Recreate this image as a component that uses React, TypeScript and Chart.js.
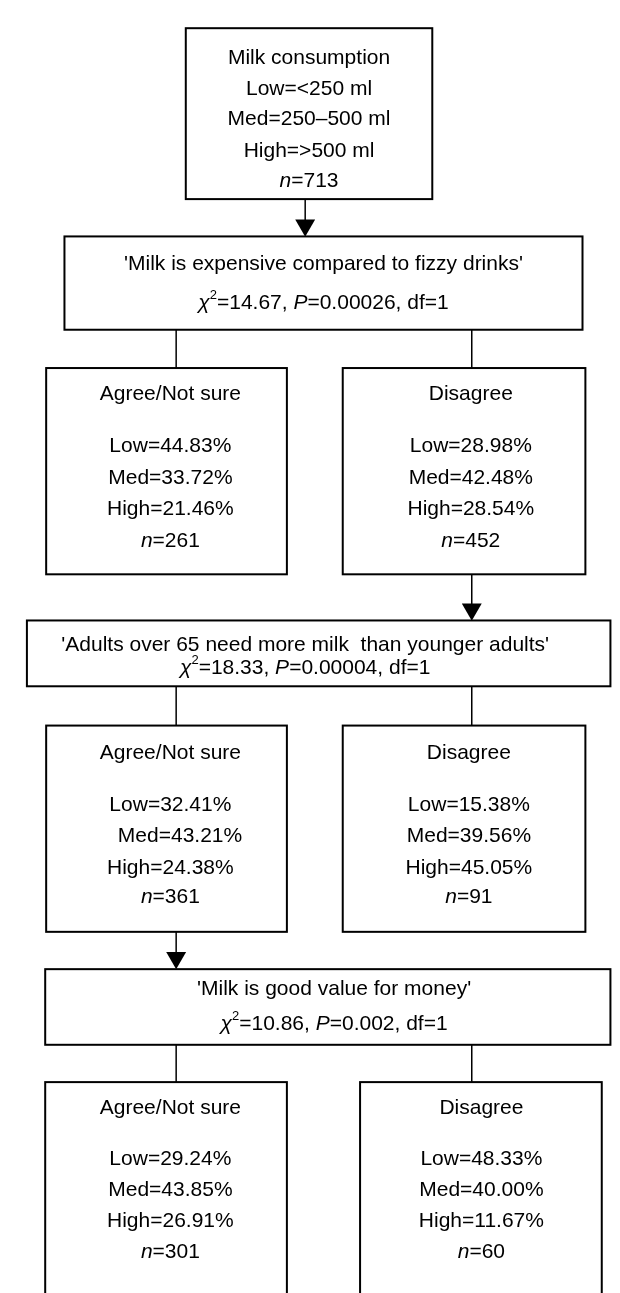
import React, { useEffect, useRef } from "react";
import { Chart, registerables } from "chart.js";

Chart.register(...registerables);

// ---------------- data ----------------
const rootTitle = "Milk consumption";
const rootCategories = ["Low=<250 ml", "Med=250–500 ml", "High=>500 ml"];
const rootN = 713;

const questions = [
  "'Milk is expensive compared to fizzy drinks'",
  "'Adults over 65 need more milk  than younger adults'",
  "'Milk is good value for money'",
];
const chiSquare = ["14.67", "18.33", "10.86"];
const pValues = ["0.00026", "0.00004", "0.002"];
const degreesOfFreedom = [1, 1, 1];

const groupLabels = ["Agree/Not sure", "Disagree", "Agree/Not sure", "Disagree", "Agree/Not sure", "Disagree"];
const lowPct = [44.83, 28.98, 32.41, 15.38, 29.24, 48.33];
const medPct = [33.72, 42.48, 43.21, 39.56, 43.85, 40.0];
const highPct = [21.46, 28.54, 24.38, 45.05, 26.91, 11.67];
const groupN = [261, 452, 361, 91, 301, 60];

// ---------------- layout (data units = page pixels) ----------------
type Box = { x0: number; x1: number; y0: number; y1: number; tx: number; ty: number[]; medShift?: number };

const rootBox: Box = { x0: 181, x1: 437, y0: 17, y1: 191, tx: 309, ty: [48, 79, 110, 142, 173] };
const questionBoxes: Box[] = [
  { x0: 55, x1: 593, y0: 229, y1: 324, tx: 324, ty: [257, 297] },
  { x0: 16, x1: 622, y0: 620, y1: 687, tx: 305, ty: [645, 669] },
  { x0: 35, x1: 622, y0: 975, y1: 1052, tx: 335, ty: [995, 1031] },
];
const leafBoxes: Box[] = [
  { x0: 36, x1: 286, y0: 363, y1: 573, tx: 165, ty: [390, 443, 475, 507, 539] },
  { x0: 344, x1: 596, y0: 363, y1: 573, tx: 477, ty: [390, 443, 475, 507, 539] },
  { x0: 36, x1: 286, y0: 727, y1: 937, tx: 165, ty: [755, 808, 840, 872, 902], medShift: 10 },
  { x0: 344, x1: 596, y0: 727, y1: 937, tx: 475, ty: [755, 808, 840, 872, 902] },
  { x0: 35, x1: 286, y0: 1090, y1: 1310, tx: 165, ty: [1117, 1168, 1200, 1232, 1263] },
  { x0: 362, x1: 613, y0: 1090, y1: 1310, tx: 488, ty: [1117, 1168, 1200, 1232, 1263] },
];
const branchX = [171, 478];
// arrows: [from box, to box, x]
const arrowXs = [305, 478, 171];

const FONT = '"Liberation Sans", Arial, Helvetica, sans-serif';
const FS = 21;

type Seg = { t: string; it?: boolean; sup?: boolean };

function segWidth(ctx: CanvasRenderingContext2D, s: Seg) {
  ctx.font = `${s.it ? "italic " : ""}${s.sup ? 13 : FS}px ${FONT}`;
  return ctx.measureText(s.t).width;
}

function drawRich(ctx: CanvasRenderingContext2D, cx: number, cy: number, segs: Seg[]) {
  const total = segs.reduce((a, s) => a + segWidth(ctx, s), 0);
  let x = cx - total / 2;
  ctx.textBaseline = "middle";
  ctx.textAlign = "left";
  ctx.fillStyle = "#000";
  for (const s of segs) {
    const w = segWidth(ctx, s);
    ctx.fillText(s.t, x, s.sup ? cy - 8 : cy);
    x += w;
  }
}

export default function App() {
  const ref = useRef<HTMLCanvasElement | null>(null);

  useEffect(() => {
    if (!ref.current) return;

    // connectors (vertical lines) built from layout
    const lineSets: { x: number; y: number }[][] = [];
    const q = questionBoxes;
    const leafRows = [
      [leafBoxes[0], leafBoxes[1]],
      [leafBoxes[2], leafBoxes[3]],
      [leafBoxes[4], leafBoxes[5]],
    ];
    q.forEach((qb, i) => {
      branchX.forEach((bx) => {
        lineSets.push([
          { x: bx, y: qb.y1 },
          { x: bx, y: leafRows[i][0].y0 },
        ]);
      });
    });
    const arrowFrom = [rootBox, leafBoxes[1], leafBoxes[2]];
    const arrowTo = [questionBoxes[0], questionBoxes[1], questionBoxes[2]];
    const R = 11.5;
    const heads: { x: number; y: number }[] = [];
    arrowFrom.forEach((fb, i) => {
      const ax = arrowXs[i];
      lineSets.push([
        { x: ax, y: fb.y1 },
        { x: ax, y: arrowTo[i].y0 - R },
      ]);
      heads.push({ x: ax, y: arrowTo[i].y0 - R });
    });

    const datasets: any[] = lineSets.map((d) => ({
      type: "line",
      data: d,
      showLine: true,
      borderColor: "#000",
      borderWidth: 1.5,
      pointRadius: 0,
      fill: false,
    }));
    datasets.push({
      type: "scatter",
      data: heads,
      pointStyle: "triangle",
      rotation: 180,
      pointRadius: R,
      backgroundColor: "#000",
      borderColor: "#000",
      borderWidth: 0,
    });

    const boxPlugin = {
      id: "flowBoxes",
      afterDatasetsDraw(chart: any) {
        const ctx: CanvasRenderingContext2D = chart.ctx;
        const sx = chart.scales.x;
        const sy = chart.scales.y;
        const X = (v: number) => sx.getPixelForValue(v);
        const Y = (v: number) => sy.getPixelForValue(v);
        ctx.save();
        const rect = (b: Box) => {
          ctx.lineWidth = 2;
          ctx.strokeStyle = "#000";
          ctx.strokeRect(X(b.x0), Y(b.y0), X(b.x1) - X(b.x0), Y(b.y1) - Y(b.y0));
        };
        // root
        rect(rootBox);
        const rootLines: Seg[][] = [
          [{ t: rootTitle }],
          ...rootCategories.map((c) => [{ t: c }]),
          [{ t: "n", it: true }, { t: "=" + rootN }],
        ];
        rootLines.forEach((l, i) => drawRich(ctx, X(rootBox.tx), Y(rootBox.ty[i]), l));
        // questions
        questionBoxes.forEach((b, i) => {
          rect(b);
          drawRich(ctx, X(b.tx), Y(b.ty[0]), [{ t: questions[i] }]);
          drawRich(ctx, X(b.tx), Y(b.ty[1]), [
            { t: "χ", it: true },
            { t: "2", sup: true },
            { t: "=" + chiSquare[i] + ", " },
            { t: "P", it: true },
            { t: "=" + pValues[i] + ", df=" + degreesOfFreedom[i] },
          ]);
        });
        // leaves
        leafBoxes.forEach((b, i) => {
          rect(b);
          const lines: Seg[][] = [
            [{ t: groupLabels[i] }],
            [{ t: "Low=" + lowPct[i].toFixed(2) + "%" }],
            [{ t: "Med=" + medPct[i].toFixed(2) + "%" }],
            [{ t: "High=" + highPct[i].toFixed(2) + "%" }],
            [{ t: "n", it: true }, { t: "=" + groupN[i] }],
          ];
          lines.forEach((l, k) => {
            const shift = k === 2 && b.medShift ? b.medShift : 0;
            drawRich(ctx, X(b.tx + shift), Y(b.ty[k]), l);
          });
        });
        ctx.restore();
      },
    };

    const chart = new Chart(ref.current, {
      type: "scatter",
      data: { datasets },
      options: {
        animation: false,
        responsive: false,
        events: [],
        layout: { padding: 0 },
        plugins: { legend: { display: false }, tooltip: { enabled: false } },
        scales: {
          x: { type: "linear", min: 0, max: 620, display: false },
          y: { type: "linear", min: 0, max: 1293, reverse: true, display: false },
        },
      },
      plugins: [boxPlugin],
    } as any);
    return () => chart.destroy();
  }, []);

  return (
    <div style={{ position: "absolute", left: 0, top: 0, width: 620, height: 1293, background: "#fff" }}>
      <canvas ref={ref} width={620} height={1293} style={{ display: "block", width: 620, height: 1293 }} />
    </div>
  );
}
